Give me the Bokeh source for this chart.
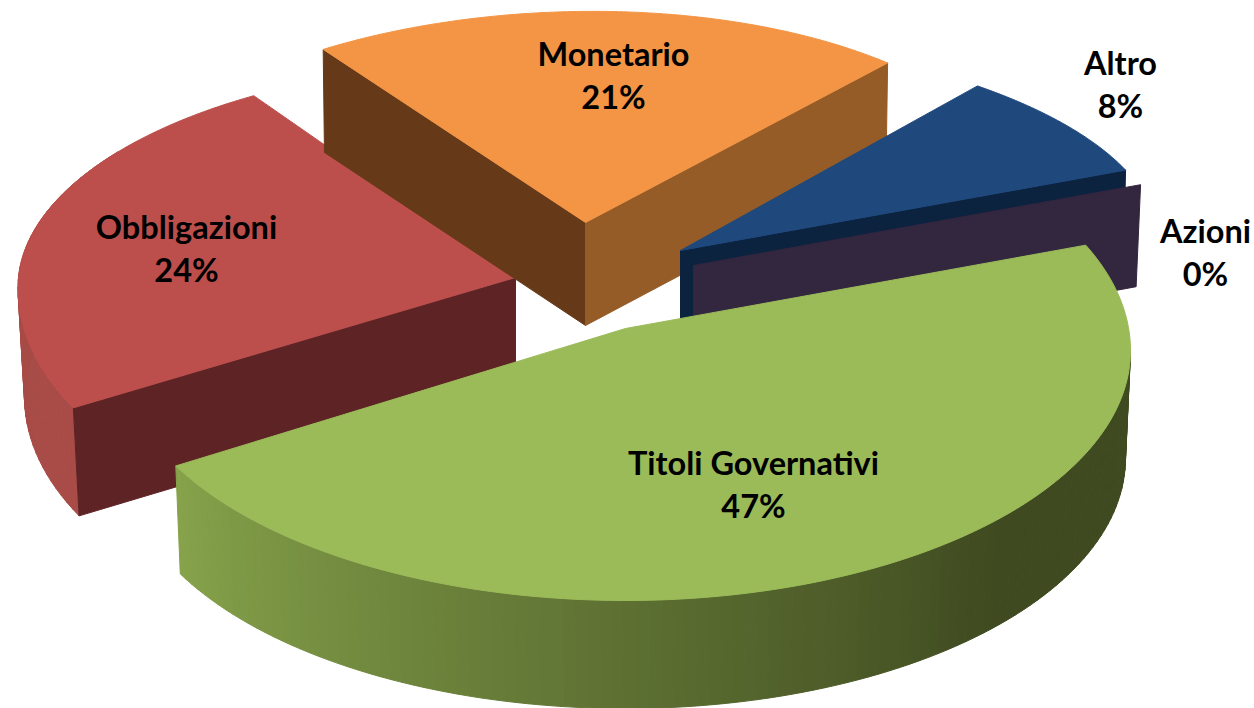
import math
from bokeh.plotting import figure
from bokeh.models import Range1d, ColumnDataSource
from bokeh.core.properties import value
from bokeh.embed import file_html
from bokeh.resources import INLINE

# ---- data ----
categories = ["Titoli Governativi", "Obbligazioni", "Monetario", "Altro", "Azioni"]
shares = [47.0, 24.0, 21.0, 7.7, 0.3]          # exact wedge sizes
percent_labels = ["47%", "24%", "21%", "8%", "0%"]

# ---- layout / style (page pixel space) ----
START = -18.7
W, H = 1254, 708
GEOM = {
    # apex, ellipse centre, rx right/left, ry front/back, perspective k, depth, shrink,
    # perspective skew of the start/end angle (da/db), tilt of the back radius
    "Titoli Governativi": dict(ax=625, ay=328, cx=625, cy=350, rx=505, rl=507, rf=250, rb=256, k=0.0, d=108, sh=0.99, da=-5.6, db=2.0, tilt=0),
    "Obbligazioni": dict(ax=515, ay=277, cx=515, cy=277, rx=497, rl=497, rf=259, rb=225, k=0.044, d=108, sh=0.987, da=0, db=0, tilt=0),
    "Monetario": dict(ax=585, ay=222, cx=575, cy=222, rx=462, rl=462, rf=211, rb=211, k=0.0, d=103, sh=0.995, da=0, db=0, tilt=8),
    "Altro": dict(ax=680, ay=250, cx=600, cy=241, rx=558, rl=558, rf=211, rb=211, k=0.0, d=105, sh=0.995, da=0, db=0, tilt=0),
    "Azioni": dict(ax=693, ay=265, cx=693, cy=265, rx=472, rl=472, rf=252, rb=252, k=0.0, d=102, sh=0.99, da=0, db=0, tilt=0),
}
TOP = {"Titoli Governativi": "#9BBB59", "Obbligazioni": "#BC4F4C", "Monetario": "#F39545",
       "Altro": "#1F497D", "Azioni": "#33263F"}
WALL_START = {"Obbligazioni": "#5E2325", "Monetario": "#955C28", "Altro": "#0C2340", "Azioni": "#33263F"}
WALL_END = {"Monetario": "#663A18"}
LABELS = {"Titoli Governativi": (753, 462), "Obbligazioni": (186, 226), "Monetario": (613, 53),
          "Altro": (1120, 62), "Azioni": (1205, 230)}
LINE_GAP = 43

angles, a = {}, START
for name, s in zip(categories, shares):
    g = GEOM[name]
    angles[name] = (a + g["da"], a + s * 3.6 + g["db"])
    a += s * 3.6


def rim(g, t, low=False):
    r = math.radians(t)
    c, s = math.cos(r), math.sin(r)
    ry = (g["rf"] if s > 0 else g["rb"]) + g["tilt"] * c
    rx = g["rx"] if c > 0 else g["rl"]
    f = 1 / (1 - g["k"] * s)
    x = rx * c * f * (g["sh"] if low else 1)
    y = ry * s * f
    return g["cx"] + x, g["cy"] + y + (g["d"] if low else 0)


def mix(c1, c2, u):
    a1 = [int(c1[i:i + 2], 16) for i in (1, 3, 5)]
    a2 = [int(c2[i:i + 2], 16) for i in (1, 3, 5)]
    return "#%02x%02x%02x" % tuple(round(p + (q - p) * u) for p, q in zip(a1, a2))


p = figure(width=W, height=H, output_backend="svg", toolbar_location=None,
           x_range=Range1d(0, W), y_range=Range1d(H, 0), min_border=0,
           outline_line_color=None)
p.axis.visible = False
p.grid.visible = False
p.background_fill_color = "white"
p.border_fill_color = "white"


def poly(xs, ys, color):
    p.patch(xs, ys, fill_color=color, line_color=color, line_width=1)


def side(g, t, color):
    x, y = rim(g, t)
    xl, yl = rim(g, t, True)
    poly([g["ax"], x, xl, g["ax"]], [g["ay"], y, yl, g["ay"] + g["d"]], color)


def outer(g, t0, t1, cfun, n=70):
    for i in range(n):
        u0, u1 = t0 + (t1 - t0) * i / n, t0 + (t1 - t0) * (i + 1) / n
        a0, a1, b0, b1 = rim(g, u0), rim(g, u1), rim(g, u0, True), rim(g, u1, True)
        poly([a0[0], a1[0], b1[0], b0[0]], [a0[1], a1[1], b1[1], b0[1]], cfun((i + .5) / n))


def top(name):
    g = GEOM[name]
    t0, t1 = angles[name]
    pts = [rim(g, t0 + (t1 - t0) * i / 120) for i in range(121)]
    poly([g["ax"]] + [q[0] for q in pts], [g["ay"]] + [q[1] for q in pts], TOP[name])


# Obbligazioni
n = "Obbligazioni"
outer(GEOM[n], angles[n][0], 215, lambda u: mix("#A94C48", "#A64A46", u), 40)
side(GEOM[n], angles[n][0], WALL_START[n])
top(n)

# Monetario
n = "Monetario"
side(GEOM[n], angles[n][0], WALL_END[n])
side(GEOM[n], angles[n][1], WALL_START[n])
top(n)

# Altro and Azioni
n = "Altro"
side(GEOM[n], angles[n][1], WALL_START[n])
top(n)
n = "Azioni"
side(GEOM[n], angles[n][1], WALL_START[n])

# Titoli Governativi
n = "Titoli Governativi"
outer(GEOM[n], angles[n][1], 0,
      lambda u: mix("#86A34B", "#3F4A20", min(1, u / 0.72)), 110)
top(n)

# labels
tx, ty, tt = [], [], []
for name, pct in zip(categories, percent_labels):
    x, y = LABELS[name]
    tx += [x, x]
    ty += [y, y + LINE_GAP]
    tt += [name, pct]
p.text(x="x", y="y", text="t", source=ColumnDataSource(dict(x=tx, y=ty, t=tt)),
       text_font=value("Lato"), text_font_style="bold", text_font_size="32.5px",
       text_color="black", text_align="center", text_baseline="middle")

open("out.html", "w").write(file_html(p, INLINE))
